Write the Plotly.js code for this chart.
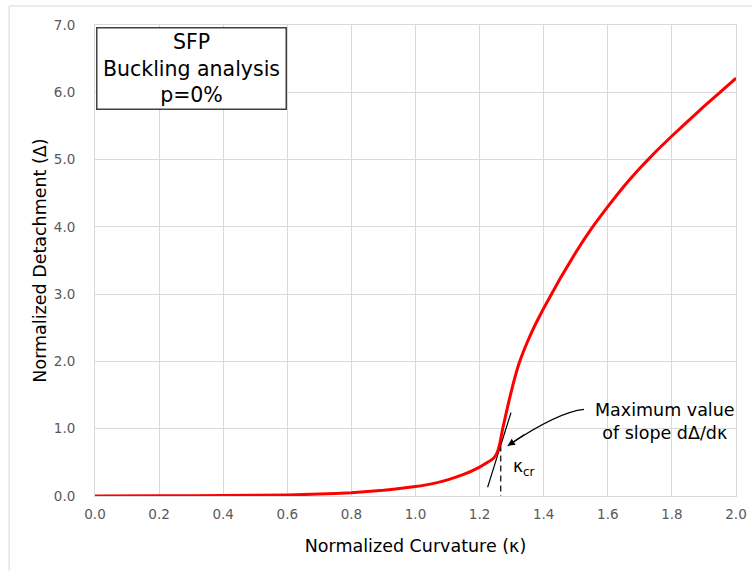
<!DOCTYPE html>
<html>
<head>
<meta charset="utf-8">
<script src="https://cdn.plot.ly/plotly-3.0.1.min.js"></script>
<style>html,body{margin:0;padding:0;background:#fff;}#chart{width:752px;height:571px;}</style>
</head>
<body>
<div id="chart"></div>
<script>
// Normalized curvature (kappa) and normalized detachment (Delta)
const kappa = [0, 0.2, 0.4, 0.6, 0.7, 0.8, 0.9, 0.95, 1.0, 1.05, 1.1, 1.15, 1.2, 1.225, 1.245, 1.255, 1.263, 1.272, 1.29, 1.305, 1.323, 1.35, 1.375, 1.4, 1.45, 1.5, 1.55, 1.6, 1.65, 1.7, 1.75, 1.8, 1.85, 1.9, 1.95, 2.0];
const delta = [0, 0.003, 0.008, 0.016, 0.028, 0.05, 0.085, 0.11, 0.14, 0.18, 0.24, 0.32, 0.43, 0.5, 0.57, 0.65, 0.78, 1.0, 1.38, 1.67, 1.97, 2.3, 2.56, 2.79, 3.22, 3.62, 3.98, 4.3, 4.6, 4.87, 5.12, 5.35, 5.57, 5.79, 6.0, 6.21];
// Tangent at max slope and critical curvature marker
const tangentX = [1.225, 1.298];
const tangentY = [0.13, 1.24];
const kcrX = [1.266, 1.266];
const kcrY = [0.75, 0];
const xTicks = [0, 0.2, 0.4, 0.6, 0.8, 1.0, 1.2, 1.4, 1.6, 1.8, 2.0];
const yTicks = [0, 1, 2, 3, 4, 5, 6, 7];

const font = "DejaVu Sans, Verdana, sans-serif";

const traces = [
  {x: kcrX, y: kcrY, mode: 'lines', line: {color: '#000', width: 1.2, dash: '6px,4px'}, hoverinfo: 'skip'},
  {x: tangentX, y: tangentY, mode: 'lines', line: {color: '#000', width: 1.2}, hoverinfo: 'skip'},
  {x: kappa, y: delta, mode: 'lines', line: {color: '#ff0000', width: 3, shape: 'spline', smoothing: 0.3}}
];

const layout = {
  width: 752, height: 571,
  margin: {l: 95, r: 16, t: 25, b: 75},
  paper_bgcolor: '#fff', plot_bgcolor: '#fff',
  showlegend: false,
  font: {family: font, color: '#595959', size: 13.5},
  xaxis: {
    range: [0, 2.0], tickvals: xTicks, ticktext: xTicks.map(v => v.toFixed(1)),
    showgrid: true, gridcolor: '#d9d9d9', gridwidth: 1,
    showline: true, mirror: true, linecolor: '#d9d9d9', linewidth: 1,
    zeroline: false, ticks: '', ticklabelstandoff: 6,
    tickfont: {family: font, size: 13.5, color: '#595959'},
    title: {text: 'Normalized Curvature (κ)', font: {family: font, size: 17.5, color: '#000'}, standoff: 18}
  },
  yaxis: {
    range: [0, 7.0], tickvals: yTicks, ticktext: yTicks.map(v => v.toFixed(1)),
    showgrid: true, gridcolor: '#d9d9d9', gridwidth: 1,
    showline: true, mirror: true, linecolor: '#d9d9d9', linewidth: 1,
    zeroline: false, ticks: '', ticklabelstandoff: 16,
    tickfont: {family: font, size: 13.5, color: '#595959'},
    title: {text: 'Normalized Detachment (Δ)', font: {family: font, size: 17.5, color: '#000'}, standoff: 2}
  },
  shapes: [
    {type: 'line', xref: 'paper', yref: 'paper', x0: -0.134, x1: 1.03, y0: 1.0405, y1: 1.0405, line: {color: '#d9d9d9', width: 1}, layer: 'below'},
    {type: 'line', xref: 'paper', yref: 'paper', x0: -0.134, x1: -0.134, y0: -0.2, y1: 1.0405, line: {color: '#d9d9d9', width: 1}, layer: 'below'},
    {type: 'path', xref: 'x', yref: 'y', path: 'M 1.526 1.288 Q 1.4445 1.25 1.2876 0.747', line: {color: '#000', width: 1.2}}
  ],
  annotations: [
    {xref: 'paper', yref: 'paper', x: 0.1505, y: 0.9066, xanchor: 'center', yanchor: 'middle', showarrow: false,
     text: 'SFP<br>Buckling analysis<br>p=0%', align: 'center',
     font: {family: font, size: 20.5, color: '#000'}, bgcolor: '#fff', bordercolor: '#404040', borderwidth: 1.5,
     width: 188, height: 80, borderpad: 0},
    {xref: 'x', yref: 'y', x: 1.78, y: 1.11, xanchor: 'center', yanchor: 'middle', showarrow: false,
     text: 'Maximum value<br>of slope dΔ/dκ', align: 'center',
     font: {family: font, size: 17.5, color: '#000'}},
    {xref: 'x', yref: 'y', x: 1.2876, y: 0.747, ax: 18, ay: -12, showarrow: true, arrowhead: 2, arrowsize: 1.2, arrowwidth: 1.2, arrowcolor: '#000', standoff: 0, text: ''},
    {xref: 'x', yref: 'y', x: 1.298, y: 0.42, xanchor: 'left', yanchor: 'middle', showarrow: false,
     text: 'κ<sub>cr</sub>', font: {family: font, size: 17, color: '#000'}}
  ]
};

Plotly.newPlot('chart', traces, layout, {displayModeBar: false, staticPlot: true});
</script>
</body>
</html>
